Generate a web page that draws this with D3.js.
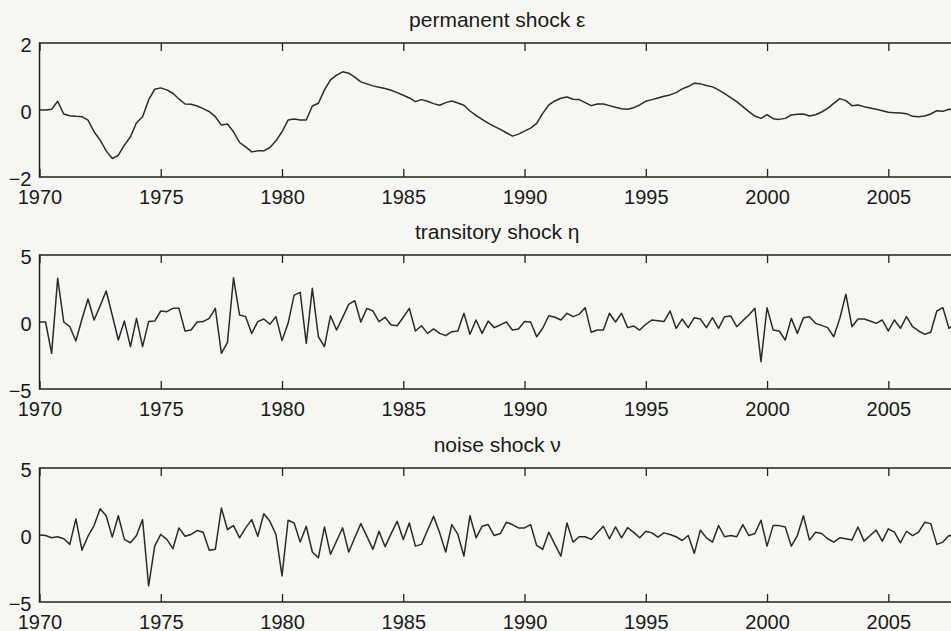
<!DOCTYPE html>
<html>
<head>
<meta charset="utf-8">
<script src="https://cdn.jsdelivr.net/npm/d3@7"></script>
<style>
  html, body { margin: 0; padding: 0; background: #f6f7f2; }
  svg { display: block; font-family: "Liberation Sans", Arial, sans-serif; }
</style>
</head>
<body>
<div id="vis"></div>
<script>
// Quarterly series, 1970Q1 .. 2007Q4 (one row per year)
const START_YEAR = 1970;

const PERMANENT = [
  0, 0, 0.02, 0.26,
  -0.12, -0.17, -0.19, -0.2,
  -0.3, -0.65, -0.9, -1.22,
  -1.45, -1.35, -1.05, -0.8,
  -0.38, -0.2, 0.3, 0.62,
  0.66, 0.6, 0.5, 0.33,
  0.18, 0.17, 0.12, 0.04,
  -0.05, -0.2, -0.45, -0.42,
  -0.65, -0.97, -1.1, -1.25,
  -1.22, -1.22, -1.12, -0.92,
  -0.65, -0.3, -0.27, -0.3,
  -0.3, 0.12, 0.2, 0.6,
  0.9, 1.04, 1.14, 1.1,
  0.98, 0.84, 0.78, 0.72,
  0.68, 0.64, 0.59, 0.52,
  0.44, 0.36, 0.25, 0.31,
  0.26, 0.19, 0.14, 0.22,
  0.27, 0.21, 0.14, -0.03,
  -0.16, -0.28, -0.39, -0.49,
  -0.58, -0.68, -0.78, -0.72,
  -0.63, -0.54, -0.4, -0.1,
  0.15, 0.27, 0.35, 0.39,
  0.32, 0.31, 0.22, 0.13,
  0.18, 0.18, 0.13, 0.08,
  0.04, 0.02, 0.07, 0.15,
  0.26, 0.31, 0.36, 0.41,
  0.45, 0.52, 0.63, 0.7,
  0.8, 0.78, 0.73, 0.69,
  0.6, 0.49, 0.37, 0.25,
  0.1, -0.05, -0.18, -0.25,
  -0.14, -0.26, -0.28, -0.25,
  -0.15, -0.13, -0.12, -0.18,
  -0.14, -0.06, 0.05, 0.2,
  0.34, 0.28, 0.13, 0.15,
  0.1, 0.06, 0.02, -0.02,
  -0.07, -0.08, -0.09, -0.11,
  -0.19, -0.2, -0.18, -0.12,
  -0.02, -0.04, 0.02, 0.0
];

const TRANSITORY = [
  0, 0, -2.34, 3.26,
  0, -0.35, -1.42, 0.2,
  1.72, 0.15, 1.2, 2.31,
  0.5, -1.34, 0.07, -1.84,
  0.27, -1.84, 0.03, 0.07,
  0.82, 0.77, 1.02, 1.02,
  -0.67, -0.6, 0, 0.03,
  0.27, 1.02, -2.34, -1.52,
  3.3, 0.52, 0.4, -0.85,
  0.03, 0.22, -0.17, 0.4,
  -1.39, -0.1, 2.01, 2.21,
  -1.59, 2.51, -1.1, -1.84,
  0.47, -0.6, 0.35, 1.32,
  1.59, 0, 1.02, 0.82,
  0.03, 0.35, -0.22, -0.28,
  0.35, 1.02, -0.67, -0.28,
  -0.85, -0.52, -0.85, -1.02,
  -0.72, -0.67, 0.65, -0.92,
  0.15, -0.85, 0.07, -0.42,
  -0.22, 0, -0.6, -0.52,
  0.03, 0, -1.1, -0.47,
  0.47, 0.35, 0.15, 0.65,
  0.4, 0.57, 1.07, -0.77,
  -0.6, -0.6, 0.65, 0,
  0.65, -0.42, -0.3, -0.6,
  -0.17, 0.15, 0.1, 0.03,
  0.82, -0.47, 0.22, -0.42,
  0.32, 0.22, -0.42, 0.32,
  -0.47, 0.4, 0.45, -0.35,
  0.1, 0.52, 1.02, -2.96,
  1.07, -0.6, -0.67, -1.34,
  0.27, -0.85, 0.32, 0.4,
  -0.1, -0.25, -0.42, -1.1,
  0.27, 2.07, -0.35, 0.22,
  0.22, 0.07, -0.1, 0.15,
  -0.67, 0.15, -0.47, 0.4,
  -0.35, -0.67, -0.92, -0.77,
  0.82, 1.07, -0.47, -0.1
];

const NOISE = [
  0, -0.04, -0.2, -0.13,
  -0.28, -0.7, 1.2, -1.13,
  -0.09, 0.7, 1.96, 1.44,
  -0.16, 1.44, -0.33, -0.58,
  -0.04, 1.15, -3.79, -0.83,
  0.04, -0.33, -1.02, 0.53,
  -0.09, 0.04, 0.33, 0.21,
  -1.13, -1.07, 2.01, 0.41,
  0.7, -0.21, 0.53, 1.15,
  -0.09, 1.59, 1.02, 0.04,
  -3.05, 1.1, 0.9, -0.53,
  0.65, -1.27, -1.69, 0.6,
  -1.44, -0.45, 0.53, -1.27,
  -0.2, 0.85, -0.1, -1.07,
  0.28, -0.87, 0.1, 1.02,
  -0.33, 0.9, -0.83, -0.7,
  0.35, 1.39, 0.16, -1.27,
  0.78, 0.04, -1.57, 1.44,
  -0.21, 0.65, 0.78, -0.04,
  0.11, 0.95, 0.78, 0.53,
  0.53, 0.78, -0.78, -1.07,
  0.21, -0.7, -1.57, 0.9,
  -0.53, -0.13, -0.13, -0.33,
  0.16, 0.65, -0.28, 0.6,
  -0.21, 0.55, 0.2, -0.21,
  0.28, 0.16, -0.16, 0.16,
  0.04, -0.13, -0.41, -0.04,
  -1.37, 0.36, -0.21, -0.53,
  0.7, -0.13, -0.04, -0.13,
  0.78, -0.04, 0.11, 1.1,
  -0.83, 0.7, 0.7, 0.6,
  -0.83, -0.04, 1.44, -0.38,
  0.21, 0.11, -0.28, -0.53,
  -0.21, -0.28, -0.38, 0.6,
  -0.46, -0.04, 0.36, -0.46,
  0.46, 0.21, -0.58, 0.28,
  -0.04, 0.21, 0.95, 0.85,
  -0.7, -0.53, -0.04, -0.09
];

const X_TICKS = [1970, 1975, 1980, 1985, 1990, 1995, 2000, 2005];
const TITLES = ["permanent shock \u03b5", "transitory shock \u03b7", "noise shock \u03bd"];
const Y_TICKS = [[-2, 0, 2], [-5, 0, 5], [-5, 0, 5]];
const Y_DOMAINS = [[-2, 2], [-5, 5], [-5, 5]];

// Frame and panel geometry
const FRAME_WIDTH = 951;
const FRAME_HEIGHT = 631;
const MARGINS = {left: 39.5, right: -4};
const PANEL_TOPS = [43, 255, 468];
const PANEL_HEIGHT = 134;
const VIS_WIDTH = FRAME_WIDTH - MARGINS.left - MARGINS.right;

const FRAME = d3.select("#vis")
  .append("svg")
    .attr("width", FRAME_WIDTH)
    .attr("height", FRAME_HEIGHT);

FRAME.append("rect")
  .attr("width", FRAME_WIDTH)
  .attr("height", FRAME_HEIGHT)
  .attr("fill", "#f6f7f2");

// Shared x scale (quarters as decimal years)
const X_SCALE = d3.scaleLinear()
  .domain([START_YEAR, START_YEAR + 37.75])
  .range([0, VIS_WIDTH]);

function drawPanel(values, k) {
  const top = PANEL_TOPS[k];
  const Y_SCALE = d3.scaleLinear()
    .domain(Y_DOMAINS[k])
    .range([PANEL_HEIGHT, 0]);

  const g = FRAME.append("g")
    .attr("transform", "translate(" + MARGINS.left + "," + top + ")");

  // title
  g.append("text")
    .attr("x", VIS_WIDTH / 2)
    .attr("y", -16)
    .attr("text-anchor", "middle")
    .attr("font-size", "21px")
    .attr("fill", "#1a1a1a")
    .text(TITLES[k]);

  // series line
  const line = d3.line()
    .x((d, i) => X_SCALE(START_YEAR + i / 4))
    .y((d) => Y_SCALE(d));

  g.append("path")
    .datum(values)
    .attr("d", line)
    .attr("fill", "none")
    .attr("stroke", "#2a2a2a")
    .attr("stroke-width", 1.5)
    .attr("stroke-linejoin", "round");

  // bottom axis with inward ticks
  const bottom = g.append("g")
    .attr("transform", "translate(0," + PANEL_HEIGHT + ")")
    .call(d3.axisBottom(X_SCALE).tickValues(X_TICKS).tickFormat(d3.format("d"))
      .tickSize(-8).tickPadding(13));
  bottom.select(".domain").remove();

  // top axis, ticks only
  const topAxis = g.append("g")
    .call(d3.axisTop(X_SCALE).tickValues(X_TICKS).tickFormat("").tickSize(-8));
  topAxis.select(".domain").remove();

  // left labels only
  const left = g.append("g")
    .attr("transform", "translate(0,2)")
    .call(d3.axisLeft(Y_SCALE).tickValues(Y_TICKS[k]).tickFormat(d3.format("d"))
      .tickSize(0).tickPadding(8));
  left.select(".domain").remove();

  g.selectAll(".tick line").attr("stroke", "#222").attr("stroke-width", 1.3);
  g.selectAll(".tick text")
    .attr("font-family", "'Liberation Sans', Arial, sans-serif")
    .attr("font-size", "20px")
    .attr("fill", "#1a1a1a");

  // box
  g.append("rect")
    .attr("width", VIS_WIDTH)
    .attr("height", PANEL_HEIGHT)
    .attr("fill", "none")
    .attr("stroke", "#222")
    .attr("stroke-width", 1.5);
}

[PERMANENT, TRANSITORY, NOISE].forEach((values, k) => drawPanel(values, k));
</script>
</body>
</html>
